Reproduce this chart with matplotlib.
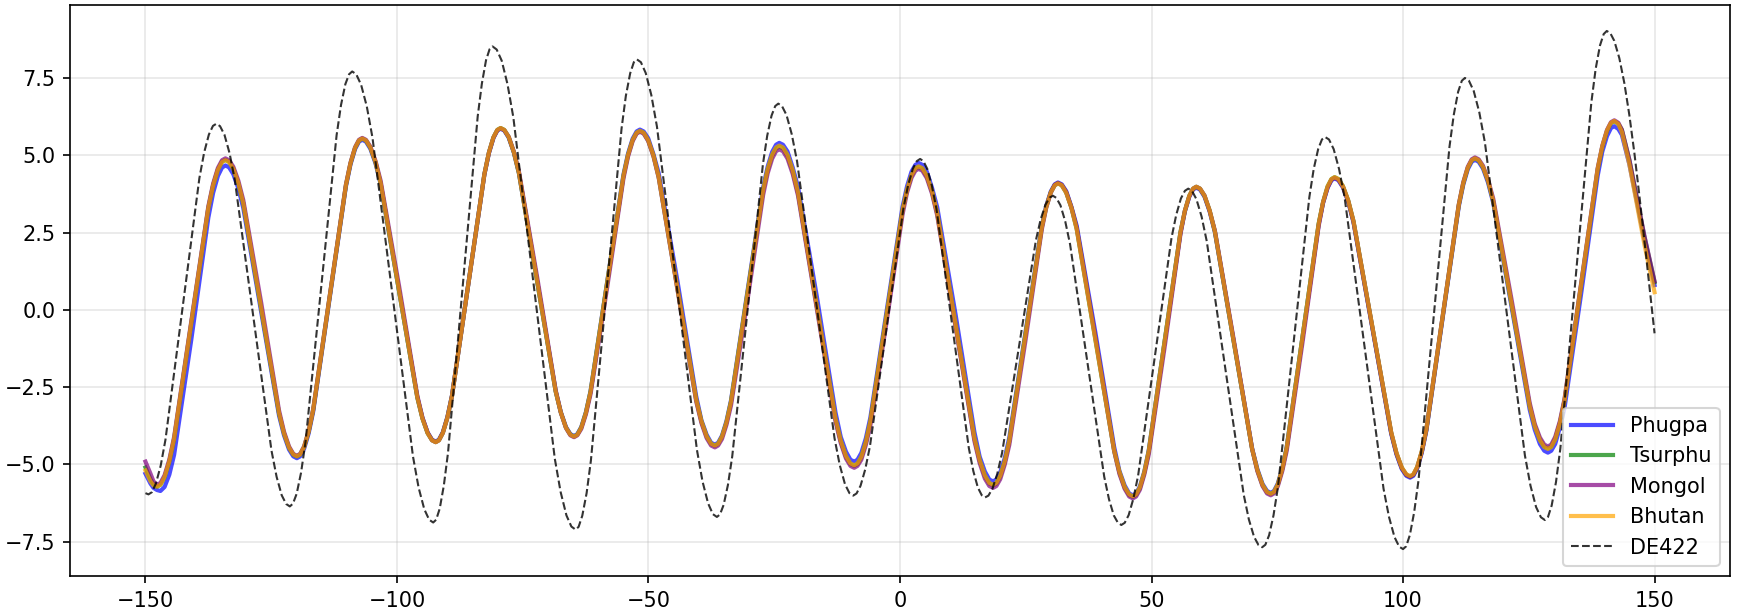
import matplotlib
matplotlib.use("Agg")
import matplotlib.pyplot as plt

# ---- data ----
days_trad = [-150.0, -149.0, -148.4, -147.7,
 -147.02, -146.2, -145.25, -144.3, -140.9, -137.5, -136.55, -135.6, -134.78, -134.1,
 -133.39, -132.54, -131.54, -130.55, -127.0, -123.45, -122.46, -121.46, -120.61, -119.9,
 -119.25, -118.47, -117.56, -116.65, -113.4, -110.15, -109.24, -108.33, -107.55, -106.9,
 -106.17, -105.29, -104.27, -103.25, -99.6, -95.95, -94.93, -93.91, -93.03, -92.3,
 -91.66, -90.88, -89.98, -89.07, -85.85, -82.62, -81.72, -80.82, -80.05, -79.4,
 -78.67, -77.79, -76.77, -75.75, -72.1, -68.45, -67.43, -66.41, -65.53, -64.8,
 -64.15, -63.36, -62.44, -61.52, -58.25, -54.97, -54.06, -53.14, -52.36, -51.7,
 -50.96, -50.06, -49.02, -47.97, -44.25, -40.52, -39.48, -38.44, -37.55, -36.8,
 -36.16, -35.39, -34.5, -33.6, -30.4, -27.2, -26.3, -25.41, -24.64, -24.0,
 -23.26, -22.36, -21.32, -20.27, -16.55, -12.82, -11.78, -10.74, -9.85, -9.1,
 -8.46, -7.69, -6.8, -5.9, -2.7, 0.5, 1.4, 2.29, 3.06, 3.7,
 4.44, 5.33, 6.36, 7.4, 11.1, 14.8, 15.84, 16.87, 17.76, 18.5,
 19.15, 19.92, 20.82, 21.73, 24.95, 28.18, 29.08, 29.98, 30.76, 31.4,
 32.15, 33.04, 34.08, 35.13, 38.85, 42.58, 43.62, 44.66, 45.56, 46.3,
 46.93, 47.69, 48.57, 49.45, 52.6, 55.75, 56.63, 57.51, 58.27, 58.9,
 59.64, 60.53, 61.56, 62.6, 66.3, 70.0, 71.04, 72.07, 72.96, 73.7,
 74.34, 75.1, 75.99, 76.88, 80.05, 83.23, 84.11, 85.0, 85.77, 86.4,
 87.15, 88.05, 89.1, 90.15, 93.9, 97.65, 98.7, 99.75, 100.65, 101.4,
 102.05, 102.82, 103.72, 104.63, 107.85, 111.08, 111.98, 112.88, 113.66, 114.3,
 115.03, 115.9, 116.91, 117.93, 121.55, 125.18, 126.19, 127.21, 128.08, 128.8,
 129.46, 130.25, 131.18, 132.1, 135.4, 138.7, 139.62, 140.55, 141.34, 142.0,
 142.8, 143.5, 145.0, 146.5, 148.0, 150.0]

phugpa = [-5.30, -5.62, -5.76, -5.83,
 -5.86, -5.73, -5.33, -4.69, -0.98, 2.98, 3.78, 4.33, 4.60, 4.67,
 4.61, 4.39, 3.93, 3.29, -0.07, -3.42, -4.06, -4.52, -4.74, -4.80,
 -4.74, -4.50, -4.00, -3.29, 0.35, 3.99, 4.70, 5.20, 5.44, 5.50,
 5.44, 5.21, 4.74, 4.07, 0.62, -2.83, -3.50, -3.97, -4.20, -4.26,
 -4.20, -3.96, -3.47, -2.78, 0.80, 4.38, 5.07, 5.56, 5.80, 5.86,
 5.80, 5.57, 5.09, 4.41, 0.89, -2.63, -3.31, -3.79, -4.02, -4.08,
 -4.02, -3.79, -3.31, -2.63, 0.88, 4.38, 5.06, 5.54, 5.77, 5.83,
 5.77, 5.55, 5.04, 4.42, 0.94, -2.79, -3.57, -4.04, -4.30, -4.36,
 -4.30, -4.07, -3.60, -2.93, 0.52, 3.97, 4.64, 5.11, 5.34, 5.40,
 5.34, 5.12, 4.60, 3.97, 0.45, -3.32, -4.11, -4.59, -4.85, -4.91,
 -4.85, -4.63, -4.16, -3.49, -0.09, 3.33, 4.00, 4.47, 4.69, 4.75,
 4.69, 4.47, 3.95, 3.32, -0.20, -3.96, -4.75, -5.23, -5.49, -5.55,
 -5.49, -5.26, -4.80, -4.13, -0.72, 2.70, 3.37, 3.83, 4.06, 4.12,
 4.06, 3.84, 3.33, 2.72, -0.74, -4.44, -5.21, -5.68, -5.94, -6.00,
 -5.94, -5.71, -5.23, -4.54, -1.03, 2.49, 3.18, 3.66, 3.89, 3.95,
 3.89, 3.66, 3.18, 2.51, -0.99, -4.48, -5.15, -5.63, -5.86, -5.92,
 -5.86, -5.62, -5.13, -4.43, -0.84, 2.76, 3.46, 3.95, 4.19, 4.25,
 4.19, 3.96, 3.50, 2.83, -0.60, -4.01, -4.68, -5.15, -5.37, -5.43,
 -5.37, -5.13, -4.63, -3.92, -0.29, 3.34, 4.05, 4.55, 4.79, 4.85,
 4.79, 4.57, 4.11, 3.46, 0.12, -3.23, -3.88, -4.34, -4.56, -4.62,
 -4.56, -4.34, -3.80, -3.18, 0.51, 4.34, 5.12, 5.62, 5.88, 5.94,
 5.85, 5.66, 4.70, 3.48, 2.24, 0.80]

tsurphu = [-5.10, -5.48, -5.64, -5.72,
 -5.66, -5.41, -4.90, -4.17, -0.44, 3.30, 4.03, 4.54, 4.79, 4.85,
 4.79, 4.57, 4.10, 3.45, 0.05, -3.34, -3.99, -4.46, -4.68, -4.74,
 -4.68, -4.44, -3.94, -3.23, 0.40, 4.03, 4.74, 5.24, 5.48, 5.54,
 5.48, 5.25, 4.78, 4.10, 0.63, -2.84, -3.52, -3.99, -4.22, -4.28,
 -4.22, -3.98, -3.49, -2.79, 0.80, 4.39, 5.09, 5.58, 5.82, 5.88,
 5.82, 5.59, 5.10, 4.42, 0.89, -2.64, -3.32, -3.81, -4.04, -4.10,
 -4.04, -3.81, -3.33, -2.65, 0.84, 4.33, 5.01, 5.49, 5.72, 5.78,
 5.72, 5.48, 4.99, 4.29, 0.69, -2.91, -3.61, -4.10, -4.34, -4.40,
 -4.34, -4.11, -3.65, -2.98, 0.44, 3.87, 4.53, 4.99, 5.22, 5.28,
 5.22, 4.98, 4.48, 3.77, 0.12, -3.54, -4.25, -4.75, -4.99, -5.05,
 -4.99, -4.77, -4.30, -3.63, -0.22, 3.20, 3.87, 4.34, 4.56, 4.62,
 4.56, 4.32, 3.82, 3.11, -0.53, -4.17, -4.88, -5.38, -5.62, -5.68,
 -5.62, -5.39, -4.92, -4.25, -0.80, 2.66, 3.33, 3.80, 4.03, 4.09,
 4.03, 3.79, 3.30, 2.61, -0.98, -4.57, -5.26, -5.75, -5.99, -6.05,
 -5.99, -5.76, -5.27, -4.58, -1.04, 2.51, 3.20, 3.69, 3.92, 3.98,
 3.92, 3.69, 3.21, 2.53, -1.00, -4.51, -5.19, -5.67, -5.90, -5.96,
 -5.90, -5.66, -5.16, -4.46, -0.84, 2.79, 3.49, 3.99, 4.23, 4.29,
 4.23, 4.00, 3.54, 2.87, -0.56, -3.97, -4.64, -5.11, -5.33, -5.39,
 -5.33, -5.09, -4.59, -3.88, -0.25, 3.39, 4.10, 4.60, 4.84, 4.90,
 4.84, 4.62, 4.17, 3.52, 0.21, -3.10, -3.75, -4.20, -4.42, -4.48,
 -4.42, -4.17, -3.66, -2.93, 0.82, 4.55, 5.28, 5.79, 6.04, 6.10,
 6.02, 5.82, 4.84, 3.59, 2.35, 0.90]

mongol = [-4.91, -5.30, -5.55, -5.66,
 -5.60, -5.35, -4.84, -4.11, -0.38, 3.35, 4.08, 4.59, 4.84, 4.90,
 4.84, 4.63, 4.18, 3.55, 0.24, -3.25, -3.94, -4.42, -4.66, -4.72,
 -4.66, -4.42, -3.92, -3.21, 0.42, 4.05, 4.76, 5.26, 5.50, 5.56,
 5.50, 5.28, 4.82, 4.18, 0.79, -2.78, -3.49, -3.97, -4.22, -4.28,
 -4.22, -3.98, -3.49, -2.79, 0.80, 4.38, 5.08, 5.57, 5.81, 5.87,
 5.81, 5.60, 5.12, 4.47, 1.03, -2.60, -3.32, -3.82, -4.06, -4.12,
 -4.06, -3.85, -3.38, -2.73, 0.68, 4.25, 4.96, 5.46, 5.70, 5.76,
 5.70, 5.46, 4.97, 4.27, 0.66, -2.96, -3.66, -4.15, -4.39, -4.45,
 -4.39, -4.18, -3.72, -3.10, 0.22, 3.72, 4.42, 4.89, 5.13, 5.19,
 5.13, 4.89, 4.39, 3.69, 0.04, -3.61, -4.31, -4.81, -5.05, -5.11,
 -5.05, -4.85, -4.38, -3.75, -0.43, 3.08, 3.79, 4.27, 4.50, 4.56,
 4.50, 4.26, 3.76, 3.05, -0.60, -4.25, -4.96, -5.46, -5.70, -5.76,
 -5.70, -5.48, -5.01, -4.37, -0.99, 2.59, 3.31, 3.79, 4.04, 4.10,
 4.04, 3.81, 3.31, 2.65, -0.90, -4.57, -5.31, -5.79, -6.04, -6.10,
 -6.04, -5.82, -5.33, -4.68, -1.22, 2.44, 3.20, 3.67, 3.92, 3.98,
 3.92, 3.70, 3.20, 2.56, -0.92, -4.50, -5.22, -5.70, -5.94, -6.00,
 -5.94, -5.71, -5.22, -4.56, -1.02, 2.71, 3.47, 3.95, 4.21, 4.27,
 4.21, 3.98, 3.52, 2.85, -0.57, -3.98, -4.65, -5.12, -5.34, -5.40,
 -5.34, -5.10, -4.60, -3.88, -0.24, 3.41, 4.13, 4.63, 4.87, 4.93,
 4.87, 4.66, 4.20, 3.60, 0.36, -3.01, -3.69, -4.13, -4.36, -4.42,
 -4.36, -4.11, -3.60, -2.88, 0.86, 4.59, 5.31, 5.82, 6.07, 6.13,
 6.05, 5.83, 4.85, 3.62, 2.38, 0.92]

bhutan = [-5.20, -5.55, -5.68, -5.72,
 -5.66, -5.41, -4.90, -4.17, -0.44, 3.29, 4.02, 4.53, 4.78, 4.84,
 4.78, 4.56, 4.10, 3.44, 0.05, -3.34, -4.00, -4.46, -4.68, -4.74,
 -4.68, -4.44, -3.94, -3.23, 0.40, 4.03, 4.74, 5.24, 5.48, 5.54,
 5.48, 5.25, 4.78, 4.10, 0.63, -2.84, -3.52, -3.99, -4.22, -4.28,
 -4.22, -3.98, -3.49, -2.79, 0.80, 4.39, 5.09, 5.58, 5.82, 5.88,
 5.82, 5.59, 5.10, 4.42, 0.89, -2.64, -3.32, -3.81, -4.04, -4.10,
 -4.04, -3.81, -3.33, -2.65, 0.85, 4.34, 5.02, 5.50, 5.73, 5.79,
 5.73, 5.49, 5.00, 4.30, 0.70, -2.90, -3.60, -4.09, -4.33, -4.39,
 -4.33, -4.10, -3.64, -2.97, 0.46, 3.89, 4.56, 5.02, 5.25, 5.31,
 5.25, 5.01, 4.51, 3.80, 0.14, -3.52, -4.23, -4.73, -4.97, -5.03,
 -4.97, -4.75, -4.28, -3.61, -0.20, 3.22, 3.89, 4.36, 4.58, 4.64,
 4.58, 4.34, 3.84, 3.13, -0.51, -4.15, -4.86, -5.36, -5.60, -5.66,
 -5.60, -5.37, -4.90, -4.23, -0.79, 2.66, 3.33, 3.80, 4.03, 4.09,
 4.03, 3.79, 3.30, 2.61, -0.97, -4.55, -5.24, -5.73, -5.97, -6.03,
 -5.97, -5.74, -5.25, -4.56, -1.03, 2.51, 3.20, 3.69, 3.92, 3.98,
 3.92, 3.69, 3.21, 2.53, -0.99, -4.50, -5.18, -5.66, -5.89, -5.95,
 -5.89, -5.65, -5.15, -4.45, -0.83, 2.79, 3.49, 3.99, 4.23, 4.29,
 4.23, 4.00, 3.54, 2.87, -0.55, -3.96, -4.63, -5.10, -5.32, -5.38,
 -5.32, -5.08, -4.58, -3.87, -0.24, 3.39, 4.10, 4.60, 4.84, 4.90,
 4.84, 4.62, 4.17, 3.52, 0.20, -3.12, -3.77, -4.22, -4.44, -4.50,
 -4.44, -4.19, -3.68, -2.95, 0.81, 4.56, 5.29, 5.80, 6.05, 6.11,
 6.01, 5.75, 4.70, 3.40, 2.10, 0.57]

days_de = [-150.0, -149.4,
 -148.73, -147.92, -146.97, -146.03, -142.65, -139.28, -138.33, -137.39, -136.58, -135.9,
 -135.17, -134.29, -133.27, -132.25, -128.6, -124.95, -123.93, -122.91, -122.03, -121.3,
 -120.68, -119.94, -119.07, -118.2, -115.1, -112.0, -111.13, -110.26, -109.52, -108.9,
 -108.1, -107.13, -106.0, -104.87, -100.85, -96.82, -95.7, -94.57, -93.6, -92.8,
 -92.21, -91.5, -90.68, -89.85, -86.9, -83.95, -83.12, -82.3, -81.59, -81.0,
 -80.18, -79.18, -78.03, -76.87, -72.75, -68.62, -67.47, -66.31, -65.33, -64.5,
 -63.89, -63.16, -62.3, -61.45, -58.4, -55.35, -54.5, -53.64, -52.91, -52.3,
 -51.51, -50.55, -49.44, -48.32, -44.35, -40.37, -39.26, -38.15, -37.2, -36.4,
 -35.79, -35.06, -34.2, -33.35, -30.3, -27.25, -26.4, -25.54, -24.81, -24.2,
 -23.46, -22.56, -21.52, -20.47, -16.75, -13.02, -11.98, -10.94, -10.05, -9.3,
 -8.64, -7.84, -6.91, -5.97, -2.65, 0.68, 1.61, 2.54, 3.34, 4.0,
 4.65, 5.42, 6.32, 7.23, 10.45, 13.68, 14.58, 15.48, 16.26, 16.9,
 17.58, 18.39, 19.33, 20.28, 23.65, 27.03, 27.97, 28.92, 29.73, 30.4,
 31.08, 31.9, 32.85, 33.8, 37.2, 40.6, 41.55, 42.5, 43.32, 44.0,
 44.67, 45.46, 46.39, 47.33, 50.65, 53.98, 54.91, 55.84, 56.64, 57.3,
 58.04, 58.92, 59.95, 60.98, 64.65, 68.33, 69.35, 70.38, 71.27, 72.0,
 72.63, 73.38, 74.25, 75.13, 78.25, 81.38, 82.25, 83.13, 83.88, 84.5,
 85.28, 86.21, 87.29, 88.38, 92.25, 96.13, 97.21, 98.3, 99.23, 100.0,
 100.62, 101.35, 102.21, 103.08, 106.15, 109.23, 110.09, 110.95, 111.69, 112.3,
 113.1, 114.05, 115.16, 116.28, 120.25, 124.23, 125.34, 126.45, 127.41, 128.2,
 128.82, 129.55, 130.41, 131.28, 134.35, 137.43, 138.29, 139.15, 139.89, 140.5,
 141.2, 142.0, 143.0, 144.0, 145.0, 146.0, 147.0, 148.0, 150.0]

de422 = [-5.93, -5.97,
 -5.90, -5.62, -5.04, -4.21, 0.03, 4.26, 5.09, 5.67, 5.95, 6.02,
 5.94, 5.66, 5.06, 4.21, -0.17, -4.55, -5.40, -6.00, -6.28, -6.36,
 -6.27, -5.95, -5.27, -4.30, 0.68, 5.65, 6.62, 7.30, 7.62, 7.71,
 7.62, 7.28, 6.58, 5.57, 0.42, -4.74, -5.75, -6.45, -6.79, -6.88,
 -6.79, -6.43, -5.68, -4.62, 0.82, 6.26, 7.32, 8.07, 8.43, 8.52,
 8.42, 8.06, 7.30, 6.23, 0.71, -4.82, -5.89, -6.65, -7.01, -7.11,
 -7.02, -6.66, -5.93, -4.88, 0.50, 5.87, 6.92, 7.65, 8.01, 8.10,
 8.01, 7.66, 6.95, 5.93, 0.70, -4.53, -5.55, -6.26, -6.61, -6.70,
 -6.62, -6.31, -5.66, -4.74, -0.02, 4.71, 5.63, 6.28, 6.59, 6.67,
 6.59, 6.30, 5.68, 4.81, 0.33, -4.15, -5.02, -5.64, -5.93, -6.01,
 -5.94, -5.69, -5.16, -4.41, -0.56, 3.28, 4.03, 4.56, 4.81, 4.88,
 4.81, 4.56, 4.03, 3.28, -0.60, -4.47, -5.22, -5.75, -6.00, -6.07,
 -6.01, -5.78, -5.31, -4.64, -1.19, 2.26, 2.93, 3.40, 3.63, 3.69,
 3.62, 3.38, 2.86, 2.13, -1.64, -5.40, -6.13, -6.65, -6.89, -6.96,
 -6.89, -6.64, -6.11, -5.37, -1.52, 2.33, 3.07, 3.60, 3.85, 3.92,
 3.85, 3.58, 3.02, 2.22, -1.88, -5.98, -6.78, -7.34, -7.61, -7.68,
 -7.60, -7.29, -6.65, -5.74, -1.05, 3.65, 4.56, 5.20, 5.51, 5.59,
 5.51, 5.20, 4.55, 3.64, -1.08, -5.79, -6.70, -7.35, -7.66, -7.74,
 -7.65, -7.29, -6.55, -5.51, -0.12, 5.27, 6.31, 7.05, 7.41, 7.50,
 7.41, 7.08, 6.39, 5.41, 0.35, -4.71, -5.69, -6.38, -6.71, -6.80,
 -6.70, -6.33, -5.57, -4.48, 1.11, 6.70, 7.79, 8.55, 8.92, 9.02,
 8.95, 8.70, 8.14, 7.33, 6.29, 5.06, 3.67, 2.22, -0.76]

series_names = ["Phugpa", "Tsurphu", "Mongol", "Bhutan"]
series_values = [phugpa, tsurphu, mongol, bhutan]
series_colors = ["blue", "green", "purple", "orange"]

# ---- figure ----
fig = plt.figure(figsize=(1738 / 150, 614 / 150), dpi=150)
ax = fig.add_axes([70 / 1738, 1 - 576.3 / 614, (1730 - 70) / 1738, (576.3 - 5) / 614])

for name, vals, col in zip(series_names, series_values, series_colors):
    ax.plot(days_trad, vals, color=col, lw=2, alpha=0.7, label=name)
ax.plot(days_de, de422, "k--", lw=1, alpha=0.8, label="DE422")

ax.set_xlim(-165, 165)
ax.set_ylim(-8.62, 9.86)
ax.grid(True, alpha=0.3)
ax.legend(loc="lower right", fontsize=10)
ax.tick_params(labelsize=10)

fig.savefig("out.png", dpi=150)
